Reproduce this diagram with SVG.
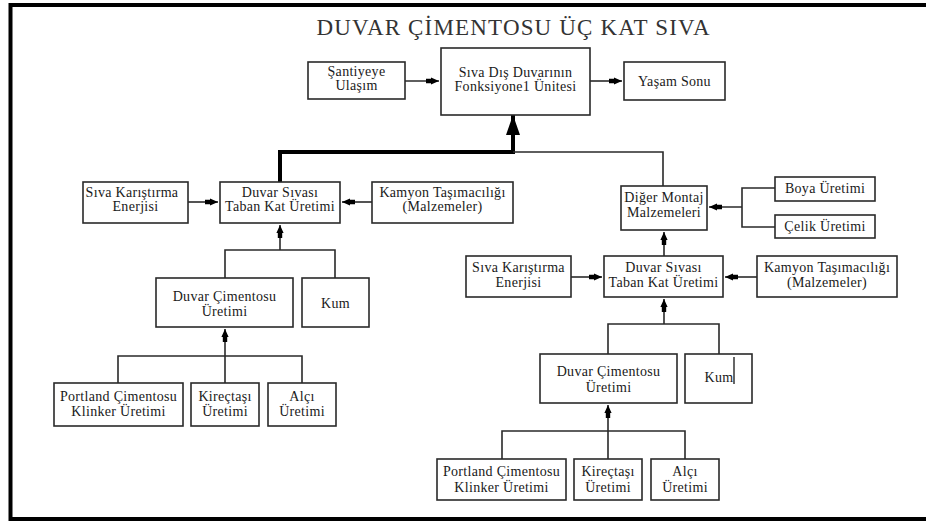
<svg xmlns="http://www.w3.org/2000/svg" width="926" height="522" viewBox="0 0 926 522">
  <style>
    .box { fill: #ffffff; stroke: #2a2a2a; stroke-width: 1.6; }
    .lbl { font-family: 'Liberation Serif', 'Times New Roman', serif; font-size: 14px; letter-spacing: 0.3px; fill: #1a1a1a; text-anchor: middle; }
    .title { font-family: 'Liberation Serif', 'Times New Roman', serif; font-size: 23px; fill: #333333; text-anchor: middle; }
    .wire { fill: none; stroke: #2a2a2a; stroke-width: 1.6; }
    .arr { marker-end: url(#head); }
    .main { fill: none; stroke: #000; stroke-width: 4; }
  </style>
  <defs>
    <marker id="head" markerUnits="userSpaceOnUse" viewBox="-14 -4 14 8" refX="0" refY="0" markerWidth="14" markerHeight="8" orient="auto">
      <path d="M-13,-2.2 H-8 V-3.6 L0,0 L-8,3.6 V2.2 H-13 Z" fill="#000"/>
    </marker>
    <marker id="bighead" markerUnits="userSpaceOnUse" viewBox="-21 -8 21 16" refX="0" refY="0" markerWidth="21" markerHeight="16" orient="auto">
      <path d="M-20,-7 L0,0 L-20,7 Z" fill="#000"/>
    </marker>
  </defs>

  <rect width="926" height="522" fill="#ffffff"/>
  <!-- frame (open on the right) -->
  <path d="M930,5 H10.5 V519 H930" fill="none" stroke="#000" stroke-width="4"/>

  <text class="title" x="513" y="35" textLength="393" lengthAdjust="spacing">DUVAR ÇİMENTOSU ÜÇ KAT SIVA</text>

  <!-- connectors -->
  <g id="connectors">
    <!-- top row -->
    <path class="wire arr" d="M405,81 H439"/>
    <path class="wire arr" d="M590,81 H622"/>
    <!-- main feed into functional unit -->
    <path class="main" d="M280,182 V152 H513 V134"/>
    <path d="M513,136 V115" stroke="#000" stroke-width="4" marker-end="url(#bighead)"/>
    <path class="wire" d="M513,152 H663 V186"/>

    <!-- left cluster -->
    <path class="wire arr" d="M188,202 H218"/>
    <path class="wire arr" d="M372,202 H342"/>
    <path class="wire arr" d="M280,250 V225"/>
    <path class="wire" d="M225,278 V250 H335 V278"/>
    <path class="wire arr" d="M225,356 V329"/>
    <path class="wire" d="M118,383 V356 H302 V383 M225,356 V383"/>

    <!-- right cluster -->
    <path class="wire" d="M775,188 H742 V227 H775"/>
    <path class="wire arr" d="M742,207 H709"/>
    <path class="wire arr" d="M664,256 V232"/>
    <path class="wire arr" d="M571,277 H602"/>
    <path class="wire arr" d="M757,277 H725"/>
    <path class="wire arr" d="M664,324 V299"/>
    <path class="wire" d="M608,354 V324 H719 V354"/>
    <path class="wire arr" d="M608,431 V405"/>
    <path class="wire" d="M502,459 V431 H685 V459 M608,431 V459"/>
  </g>

  <g font-family="Liberation Serif, Times New Roman, serif">
  <!-- top row -->
  <g id="santiye">
    <rect class="box" x="308" y="62" width="97" height="37"/>
    <text class="lbl" x="356.5" y="76">Şantiyeye</text>
    <text class="lbl" x="356.5" y="90">Ulaşım</text>
  </g>
  <g id="fonksiyonel">
    <rect class="box" x="441" y="48" width="149" height="67"/>
    <text class="lbl" x="515.5" y="77">Sıva Dış Duvarının</text>
    <text class="lbl" x="515.5" y="91">Fonksiyone1 Ünitesi</text>
  </g>
  <g id="yasam">
    <rect class="box" x="624" y="62" width="101" height="38"/>
    <text class="lbl" x="674.5" y="86">Yaşam Sonu</text>
  </g>

  <!-- left cluster -->
  <g id="enerji-l">
    <rect class="box" x="83" y="182" width="105" height="41"/>
    <text class="lbl" x="132" y="197">Sıva Karıştırma</text>
    <text class="lbl" x="135.5" y="211">Enerjisi</text>
  </g>
  <g id="taban-l">
    <rect class="box" x="220" y="182" width="120" height="41"/>
    <text class="lbl" x="280" y="197">Duvar Sıvası</text>
    <text class="lbl" x="280" y="211">Taban Kat Üretimi</text>
  </g>
  <g id="kamyon-l">
    <rect class="box" x="372" y="182" width="141" height="41"/>
    <text class="lbl" x="442.5" y="197">Kamyon Taşımacılığı</text>
    <text class="lbl" x="442.5" y="211">(Malzemeler)</text>
  </g>
  <g id="cimento-l">
    <rect class="box" x="156" y="278" width="137" height="49"/>
    <text class="lbl" x="224.5" y="301">Duvar Çimentosu</text>
    <text class="lbl" x="224.5" y="316">Üretimi</text>
  </g>
  <g id="kum-l">
    <rect class="box" x="302" y="278" width="67" height="49"/>
    <text class="lbl" x="335.5" y="308">Kum</text>
  </g>
  <g id="klinker-l">
    <rect class="box" x="54" y="383" width="129" height="43"/>
    <text class="lbl" x="118.5" y="401">Portland Çimentosu</text>
    <text class="lbl" x="118.5" y="416">Klinker Üretimi</text>
  </g>
  <g id="kirec-l">
    <rect class="box" x="191" y="383" width="68" height="43"/>
    <text class="lbl" x="225" y="401">Kireçtaşı</text>
    <text class="lbl" x="225" y="416">Üretimi</text>
  </g>
  <g id="alci-l">
    <rect class="box" x="268" y="383" width="68" height="43"/>
    <text class="lbl" x="302" y="401">Alçı</text>
    <text class="lbl" x="302" y="416">Üretimi</text>
  </g>

  <!-- right cluster -->
  <g id="montaj">
    <rect class="box" x="621" y="186" width="86" height="44"/>
    <text class="lbl" x="664" y="202">Diğer Montaj</text>
    <text class="lbl" x="664" y="217">Malzemeleri</text>
  </g>
  <g id="boya">
    <rect class="box" x="775" y="177" width="100" height="24"/>
    <text class="lbl" x="825" y="193">Boya Üretimi</text>
  </g>
  <g id="celik">
    <rect class="box" x="775" y="215" width="100" height="23"/>
    <text class="lbl" x="825" y="231">Çelik Üretimi</text>
  </g>
  <g id="enerji-r">
    <rect class="box" x="466" y="256" width="105" height="41"/>
    <text class="lbl" x="518.5" y="272">Sıva Karıştırma</text>
    <text class="lbl" x="518.5" y="287">Enerjisi</text>
  </g>
  <g id="taban-r">
    <rect class="box" x="604" y="256" width="119" height="41"/>
    <text class="lbl" x="663.5" y="272">Duvar Sıvası</text>
    <text class="lbl" x="663.5" y="287">Taban Kat Üretimi</text>
  </g>
  <g id="kamyon-r">
    <rect class="box" x="757" y="256" width="140" height="41"/>
    <text class="lbl" x="827" y="272">Kamyon Taşımacılığı</text>
    <text class="lbl" x="827" y="287">(Malzemeler)</text>
  </g>
  <g id="cimento-r">
    <rect class="box" x="540" y="354" width="137" height="49"/>
    <text class="lbl" x="608.5" y="376">Duvar Çimentosu</text>
    <text class="lbl" x="608.5" y="392">Üretimi</text>
  </g>
  <g id="kum-r">
    <rect class="box" x="685" y="354" width="67" height="49"/>
    <text class="lbl" x="719" y="382">Kum</text>
    <line x1="734" y1="357" x2="734" y2="384" stroke="#000" stroke-width="1.2"/>
  </g>
  <g id="klinker-r">
    <rect class="box" x="437" y="459" width="129" height="41"/>
    <text class="lbl" x="501.5" y="476">Portland Çimentosu</text>
    <text class="lbl" x="501.5" y="492">Klinker Üretimi</text>
  </g>
  <g id="kirec-r">
    <rect class="box" x="574" y="459" width="68" height="41"/>
    <text class="lbl" x="608" y="476">Kireçtaşı</text>
    <text class="lbl" x="608" y="492">Üretimi</text>
  </g>
  <g id="alci-r">
    <rect class="box" x="651" y="459" width="68" height="41"/>
    <text class="lbl" x="685" y="476">Alçı</text>
    <text class="lbl" x="685" y="492">Üretimi</text>
  </g>
  </g>
</svg>
